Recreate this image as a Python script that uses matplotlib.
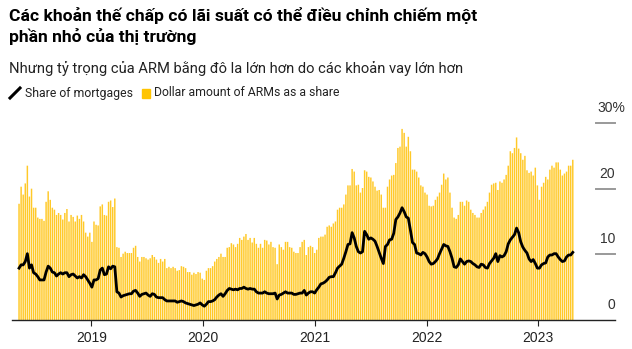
import matplotlib
matplotlib.use("Agg")
import matplotlib.pyplot as plt
import matplotlib.transforms as mtransforms
from matplotlib.lines import Line2D
from matplotlib.patches import Rectangle
import pandas as pd

plt.rcParams['font.family'] = ['Liberation Sans', 'DejaVu Sans']
HEAD = ['Roboto', 'DejaVu Sans']

title = "Các khoản thế chấp có lãi suất có thể điều chỉnh chiếm một\nphần nhỏ của thị trường"
subtitle = "Nhưng tỷ trọng của ARM bằng đô la lớn hơn do các khoản vay lớn hơn"
legend_line = "Share of mortgages"
legend_bar = "Dollar amount of ARMs as a share"

# weekly values (%)
dollar_share = [
    17.7, 20.3, 19.1, 20.8, 23.5, 18.8, 20.0, 17.1, 17.1, 15.6,
    15.4, 15.4, 15.1, 18.0, 19.6, 18.3, 17.1, 16.8, 16.0, 16.3,
    16.0, 15.3, 16.3, 16.9, 15.0, 16.0, 15.7, 15.0, 15.9, 15.4,
    16.0, 15.0, 13.3, 12.7, 13.3, 11.9, 15.0, 14.5, 14.4, 17.3,
    17.6, 16.0, 15.9, 18.0, 18.2, 17.2, 18.5, 11.1, 11.0, 9.6,
    10.1, 10.4, 10.2, 10.2, 10.2, 11.0, 11.3, 9.6, 8.9, 9.6,
    9.6, 9.4, 9.2, 9.4, 9.9, 9.6, 9.2, 8.7, 9.3, 8.9,
    9.3, 7.9, 8.1, 7.9, 8.1, 7.9, 7.5, 7.6, 8.2, 8.1,
    7.9, 7.3, 7.3, 6.9, 7.2, 7.0, 7.3, 7.2, 6.3, 6.1,
    7.5, 7.9, 7.9, 8.2, 8.9, 9.3, 9.6,
    10.1, 9.6, 9.6, 11.0, 11.1, 11.7, 11.5, 11.1, 11.6, 12.5,
    12.2, 12.7, 13.1, 12.2, 12.5, 11.8, 12.5, 11.6, 11.0, 11.6,
    11.0, 12.2, 12.1, 11.5, 11.9, 11.1, 11.0, 8.5, 11.5, 11.1,
    10.7, 11.9, 11.9, 11.1, 11.0, 10.4, 10.2, 10.2, 11.1, 11.9,
    12.2, 9.9, 11.1, 11.3, 11.1, 10.2, 10.7, 12.5, 12.7, 12.7,
    13.0, 14.2, 14.4, 14.2, 14.7, 15.0, 16.8, 17.1, 17.1, 17.6,
    19.1, 20.5, 20.5, 23.0, 22.6, 20.5, 20.6, 19.4, 20.1, 22.8,
    22.6, 21.8, 21.7, 21.1, 20.3, 19.7, 19.8, 19.1, 17.1, 17.1,
    20.3, 21.4, 22.0, 22.1, 23.9, 26.2, 26.4, 29.1, 28.5, 26.4,
    27.9, 25.7, 22.9, 22.9, 22.6, 21.7,
    20.5, 20.3, 19.4, 19.1, 17.4, 17.3, 17.4, 18.3, 18.8, 19.4,
    20.6, 22.3, 21.4, 21.7, 19.4, 17.1, 15.6, 15.4, 16.0, 18.0,
    18.0, 17.4, 18.2, 18.0, 16.8, 16.3, 16.0, 15.6, 15.6, 16.3,
    16.8, 17.3, 18.0, 19.4, 20.6, 20.8, 20.9, 19.8, 21.1, 20.9,
    21.4, 22.1, 23.5, 25.7, 25.4, 26.2, 27.8, 26.1, 25.4, 24.4,
    25.0, 22.8, 22.4, 22.6, 22.0, 23.2, 20.5, 18.3, 20.3, 20.9,
    21.8, 21.4, 22.9, 23.5, 23.2, 24.0, 24.0, 22.9, 22.0, 22.3,
    22.6, 23.5, 23.5, 24.4,
]

mortgage_share = [
    7.9, 8.4, 8.4, 8.9, 10.1, 7.9, 8.4, 7.2, 7.0, 6.6,
    6.1, 6.1, 6.1, 7.3, 8.2, 7.9, 7.3, 7.2, 6.7, 7.0,
    7.2, 7.0, 7.2, 7.2, 6.6, 6.9, 7.0, 6.7, 6.4, 6.6,
    6.4, 6.9, 6.6, 6.1, 5.6, 5.0, 6.1, 6.1, 6.3, 7.6,
    7.9, 6.9, 7.0, 8.1, 7.8, 8.2, 8.1, 4.3, 4.1, 3.5,
    3.7, 3.8, 3.9, 4.0, 4.0, 4.4, 4.5, 4.1, 3.6, 3.9,
    4.0, 4.1, 3.8, 3.6, 4.0, 3.9, 3.5, 3.4, 3.4, 3.4,
    3.1, 2.9, 2.9, 2.9, 2.9, 2.9, 2.7, 2.8, 2.9, 2.8,
    2.6, 2.5, 2.4, 2.3, 2.2, 2.3, 2.4, 2.6, 2.3, 2.1,
    2.4, 2.8, 2.8, 2.9, 3.1, 3.5, 3.8,
    4.0, 3.6, 4.0, 4.5, 4.8, 4.7, 4.6, 4.7, 4.6, 4.8,
    4.8, 5.0, 4.8, 4.7, 4.8, 4.7, 4.7, 4.3, 4.1, 4.1,
    4.1, 4.3, 4.1, 4.0, 4.0, 4.0, 4.1, 3.2, 3.8, 3.9,
    4.1, 4.3, 4.1, 4.1, 4.1, 3.9, 3.9, 4.0, 4.1, 4.1,
    4.5, 3.8, 4.1, 4.3, 4.3, 4.1, 4.6, 5.0, 5.5, 5.6,
    5.8, 6.1, 6.5, 6.6, 6.6, 7.2, 7.9, 8.2, 8.5, 9.4,
    10.4, 11.5, 11.6, 13.3, 12.5, 11.2, 10.4, 10.2, 10.4, 13.5,
    13.0, 12.3, 12.5, 12.3, 12.0, 11.2, 10.3, 9.4, 8.6, 11.2,
    11.5, 12.2, 12.3, 13.2, 15.3, 15.7, 16.3, 17.1, 16.5, 15.7,
    15.5, 13.7, 11.8, 11.5, 10.2, 10.1,
    9.9, 10.3, 10.1, 9.6, 8.9, 8.5, 8.6, 8.9, 9.3, 10.1,
    10.8, 11.5, 11.3, 11.2, 10.4, 9.4, 8.1, 8.0, 8.4, 9.3,
    8.9, 8.5, 8.9, 9.0, 8.9, 8.6, 8.4, 8.1, 8.0, 8.5,
    8.4, 8.0, 7.9, 8.6, 9.0, 9.4, 10.1, 8.9, 9.8, 9.6,
    9.8, 10.4, 11.6, 12.2, 12.6, 13.0, 14.0, 13.3, 11.9, 11.1,
    10.6, 10.2, 9.3, 8.9, 9.2, 8.6, 7.9, 7.9, 8.4, 8.6,
    8.7, 9.6, 9.9, 9.9, 10.1, 10.1, 9.6, 9.2, 8.9, 9.0,
    9.6, 9.9, 9.9, 10.3,
]

dates = pd.date_range("2018-05-10", "2023-04-24", periods=len(dollar_share))
years = ["2019", "2020", "2021", "2022", "2023"]
y_ticks = [0, 10, 20, 30]
y_labels = ["0", "10", "20", "30%"]

fig = plt.figure(figsize=(6.32, 3.49), dpi=100)
ax = fig.add_axes([12 / 632, 29 / 349, 603 / 632, 197 / 349])

ax.bar(dates, dollar_share, width=4.8, color="#FFC928", linewidth=0, snap=False, zorder=1)
ax.plot(dates, mortgage_share, color="black", linewidth=2.0, solid_joinstyle="round", zorder=3)

ax.set_xlim(pd.Timestamp("2018-04-17"), pd.Timestamp("2023-09-09"))
ax.set_ylim(0, 30)

for s in ["top", "right", "left"]:
    ax.spines[s].set_visible(False)
ax.spines["bottom"].set_color("#222222")
ax.spines["bottom"].set_linewidth(1.0)
ax.spines["bottom"].set_zorder(4)

ax.set_yticks([])
ax.set_xticks([pd.Timestamp(y + "-01-01") for y in years])
ax.set_xticklabels(years)
ax.tick_params(axis="x", length=4, width=0.8, color="#222222", labelsize=10, pad=4, labelcolor="#222222")

# right-hand value labels with short grey rules
trans = mtransforms.blended_transform_factory(ax.transAxes, ax.transData)
for v, lab in zip(y_ticks, y_labels):
    if v > 0:
        ax.plot([0.968, 1.0], [v, v], color="#999999", linewidth=1.4, transform=trans, clip_on=False)
    if lab.endswith("%"):
        ax.text(0.9705, v + 1.2, lab, transform=trans, ha="left", va="bottom",
                fontsize=10, color="#333333", clip_on=False)
    else:
        ax.text(1.0, v + 1.2, lab, transform=trans, ha="right", va="bottom",
                fontsize=10, color="#333333", clip_on=False)

# header
fig.text(9 / 632, 1 - 7 / 349, title, ha="left", va="top", fontsize=12.6,
         fontweight="bold", color="black", linespacing=1.3, family=HEAD)
fig.text(9 / 632, 1 - 68 / 349, subtitle, ha="left", va="center", fontsize=10.6,
         color="#222222", family=HEAD)

# legend
ly = 1 - 93 / 349
fig.add_artist(Line2D([10 / 632, 20 / 632], [ly - 5 / 349, ly + 5 / 349], color="black", linewidth=2.2))
fig.text(25 / 632, ly, legend_line, ha="left", va="center", fontsize=8.8, color="#222222", family=HEAD)
fig.add_artist(Rectangle((142 / 632, ly - 4.5 / 349), 8 / 632, 9 / 349, color="#FFC400",
                         transform=fig.transFigure))
fig.text(154 / 632, ly, legend_bar, ha="left", va="center", fontsize=8.8, color="#222222", family=HEAD)

fig.savefig("out.png", dpi=100)
